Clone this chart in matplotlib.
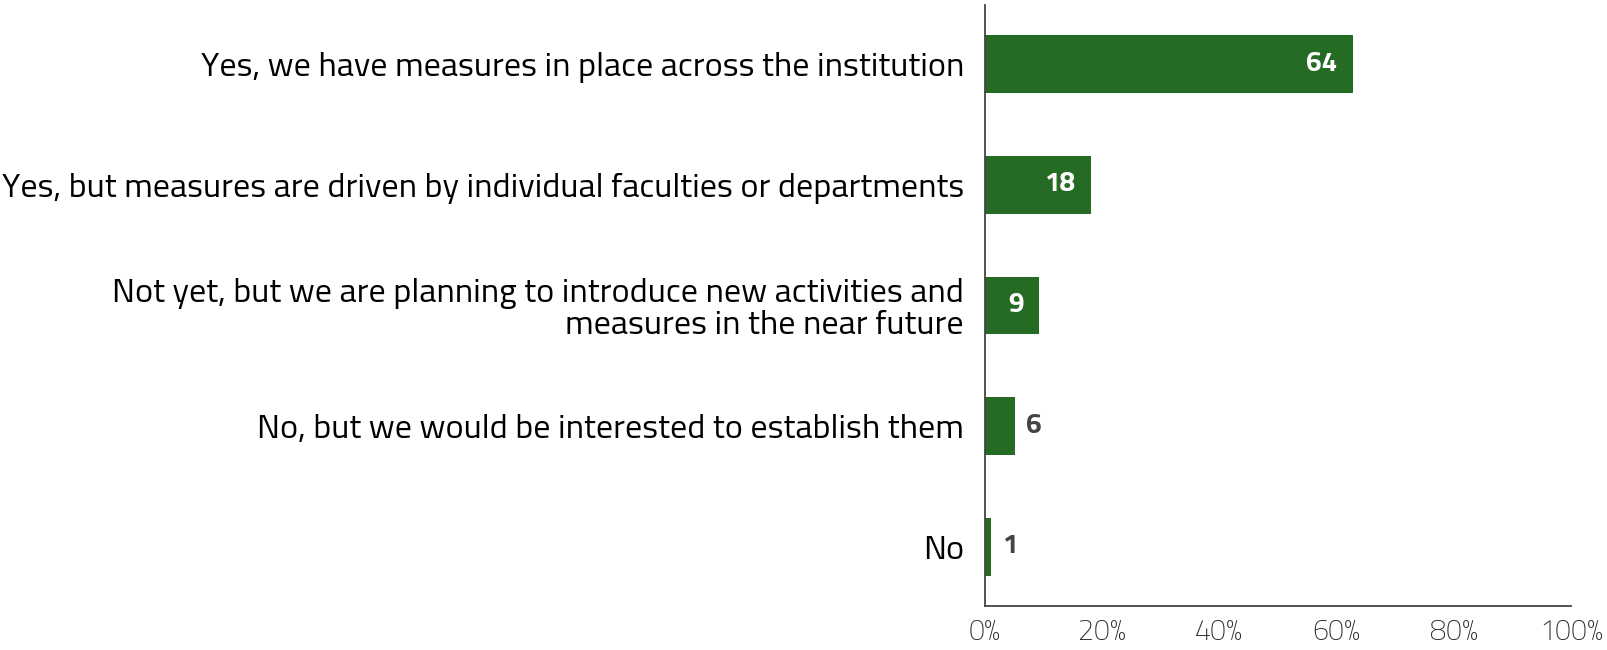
import matplotlib
matplotlib.use("Agg")
import matplotlib.pyplot as plt
from matplotlib import font_manager
from matplotlib.font_manager import FontProperties
from matplotlib.textpath import TextPath


# Survey answers (top to bottom)
categories = [
    "Yes, we have measures in place across the institution",
    "Yes, but measures are driven by individual faculties or departments",
    "Not yet, but we are planning to introduce new activities and\nmeasures in the near future",
    "No, but we would be interested to establish them",
    "No",
]

# Bar lengths (percent of the axis) and the numbers printed on them
percents = [62.8, 18.1, 9.2, 5.1, 1.1]
value_labels = ["64", "18", "9", "6", "1"]

x_ticks = [0, 20, 40, 60, 80, 100]
x_tick_labels = ["0%", "20%", "40%", "60%", "80%", "100%"]


# narrow font like the original if it is there, else DejaVu
installed = {f.name for f in font_manager.fontManager.ttflist}
font = "Titillium Web" if "Titillium Web" in installed else "DejaVu Sans"
plt.rcParams["font.family"] = [font, "DejaVu Sans"]

green = "#256b23"

fig = plt.figure(figsize=(16.07, 6.5), dpi=100)
renderer = fig.canvas.get_renderer()


def fit_width(s, width_px, weight="normal", start=20.0):
    # font size that makes the string about width_px wide
    t = fig.text(0, 0, s, fontsize=start, fontweight=weight)
    w = t.get_window_extent(renderer).width
    t.remove()
    return start * width_px / w


def fit_height(s, height_px, weight="normal"):
    # font size that makes the glyphs about height_px tall
    tp = TextPath((0, 0), s, size=100, prop=FontProperties(family=font, weight=weight))
    h = tp.get_extents().height
    return height_px * 72 / fig.dpi * 100 / h


cat_size = fit_width(categories[1], 960)
tick_size = fit_width("100%", 64, weight="light")
val_size = fit_height("8", 19, weight="bold")

ax = fig.add_axes([0.6129, 0.0682, 0.3647, 0.9241])

positions = list(range(len(categories)))

ax.barh(
    positions,
    percents,
    height=0.476,
    color=green
)

# value labels: inside the bar when it is wide enough, else just outside
for pos, pct, lab in zip(positions, percents, value_labels):
    if pct >= 8:
        ax.annotate(
            lab, (pct, pos), xytext=(-11, 0), textcoords="offset points",
            ha="right", va="center",
            color="white", fontsize=val_size, fontweight="bold"
        )
    else:
        ax.annotate(
            lab, (pct, pos), xytext=(8, 0), textcoords="offset points",
            ha="left", va="center",
            color="#444444", fontsize=val_size, fontweight="bold"
        )

ax.set_xlim(0, 100)
ax.set_ylim(4.487, -0.49)

ax.set_yticks(positions)
ax.set_yticklabels(categories, fontsize=cat_size, color="black")
for t in ax.get_yticklabels():
    t.set_multialignment("right")
    t.set_linespacing(1.05)

ax.set_xticks(x_ticks)
ax.set_xticklabels(x_tick_labels, fontsize=tick_size, color="#2a2a2a",
                   fontweight="light")

ax.tick_params(axis="y", length=0, pad=15)
ax.tick_params(axis="x", length=0, pad=9)

for side in ["top", "right"]:
    ax.spines[side].set_visible(False)
for side in ["left", "bottom"]:
    ax.spines[side].set_color("#444444")
    ax.spines[side].set_linewidth(1.3)

plt.savefig("out.png", dpi=100)
